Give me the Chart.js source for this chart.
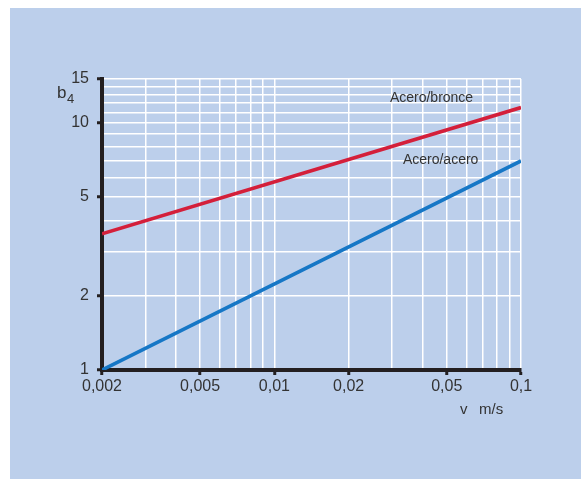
<!DOCTYPE html>
<html>
<head>
<meta charset="utf-8">
<script src="https://cdn.jsdelivr.net/npm/chart.js@4/dist/chart.umd.min.js"></script>
<style>
  html, body { margin: 0; padding: 0; background: #ffffff; }
  #panel { position: absolute; left: 10px; top: 8px; width: 571px; height: 471px; background: #bccfeb; }
  canvas { display: block; }
</style>
</head>
<body>
<div id="panel"><canvas id="chart" width="571" height="471"></canvas></div>
<script>
// Sliding speed v (m/s) at the two ends of each straight log-log line
const speeds = [0.002, 0.1];
// Factor b4 for each material pairing
const bronzeFactor = [3.55, 11.5];
const steelFactor = [1, 7];
const seriesNames = ['Acero/bronce', 'Acero/acero'];

// Labelled ticks
const xTickValues = [0.002, 0.005, 0.01, 0.02, 0.05, 0.1];
const xTickLabels = ['0,002', '0,005', '0,01', '0,02', '0,05', '0,1'];
const yTickValues = [1, 2, 5, 10, 15];
const yTickLabels = ['1', '2', '5', '10', '15'];

// Every grid line of the log-log paper
const xGridValues = [0.002, 0.003, 0.004, 0.005, 0.006, 0.007, 0.008, 0.009,
                     0.01, 0.02, 0.03, 0.04, 0.05, 0.06, 0.07, 0.08, 0.09, 0.1];
const yGridValues = [1, 2, 3, 4, 5, 6, 7, 8, 9, 10, 11, 12, 13, 14, 15];

// Where the series names sit (in v, b4 units: left end of text, baseline)
const nameSpeeds = [0.0294, 0.0332];
const nameFactors = [12.1, 6.8];

const AXIS = '#231f20';
const TEXT = '#333333';
const FONT = "'Liberation Sans', Arial, sans-serif";

function findIndex(list, v) {
  return list.findIndex(t => Math.abs(t - v) / t < 1e-6);
}

const textPlugin = {
  id: 'chartTexts',
  afterDraw(chart) {
    const ctx = chart.ctx;
    const xs = chart.scales.x, ys = chart.scales.y;
    const area = chart.chartArea;
    ctx.save();
    ctx.fillStyle = TEXT;
    ctx.textBaseline = 'alphabetic';
    ctx.textAlign = 'left';

    // series names
    ctx.font = '14px ' + FONT;
    seriesNames.forEach((name, i) => {
      ctx.fillText(name, xs.getPixelForValue(nameSpeeds[i]), ys.getPixelForValue(nameFactors[i]));
    });

    // y axis title: b with subscript 4
    ctx.font = '17px ' + FONT;
    ctx.fillText('b', area.left - 45, area.top + 19);
    ctx.font = '13px ' + FONT;
    ctx.fillText('4', area.left - 35, area.top + 24);

    // x axis title
    ctx.font = '15px ' + FONT;
    ctx.fillText('v', area.left + 358, area.bottom + 44);
    ctx.fillText('m/s', area.left + 377, area.bottom + 44);
    ctx.restore();
  }
};

function tickMarkColor(list) {
  return ctx => (ctx.tick && findIndex(list, ctx.tick.value) >= 0) ? AXIS : 'rgba(0,0,0,0)';
}

new Chart(document.getElementById('chart'), {
  type: 'line',
  data: {
    datasets: [
      {
        label: seriesNames[0],
        data: speeds.map((v, i) => ({ x: v, y: bronzeFactor[i] })),
        borderColor: '#d41f3a',
        borderWidth: 3.6,
        pointRadius: 0,
        tension: 0
      },
      {
        label: seriesNames[1],
        data: speeds.map((v, i) => ({ x: v, y: steelFactor[i] })),
        borderColor: '#1677c6',
        borderWidth: 3.6,
        pointRadius: 0,
        tension: 0
      }
    ]
  },
  options: {
    responsive: false,
    animation: false,
    devicePixelRatio: 1,
    layout: { padding: { left: 0, top: 71, right: 60, bottom: 0 } },
    plugins: { legend: { display: false }, tooltip: { enabled: false } },
    scales: {
      x: {
        type: 'logarithmic',
        min: 0.002,
        max: 0.1,
        afterBuildTicks: scale => { scale.ticks = xGridValues.map(v => ({ value: v })); },
        afterFit: scale => { scale.height = 109; },
        grid: {
          color: '#ffffff',
          lineWidth: 1.5,
          drawTicks: true,
          tickLength: 5,
          tickWidth: 3,
          tickColor: tickMarkColor(xTickValues)
        },
        border: { display: true, color: AXIS, width: 4 },
        ticks: {
          autoSkip: false,
          maxRotation: 0,
          padding: 2,
          color: TEXT,
          font: { family: FONT, size: 16 },
          callback: v => { const i = findIndex(xTickValues, v); return i >= 0 ? xTickLabels[i] : ''; }
        }
      },
      y: {
        type: 'logarithmic',
        min: 1,
        max: 15,
        afterBuildTicks: scale => { scale.ticks = yGridValues.map(v => ({ value: v })); },
        afterFit: scale => { scale.width = 92; },
        grid: {
          color: '#ffffff',
          lineWidth: 1.5,
          drawTicks: true,
          tickLength: 5,
          tickWidth: 3,
          tickColor: tickMarkColor(yTickValues)
        },
        border: { display: true, color: AXIS, width: 4 },
        ticks: {
          autoSkip: false,
          padding: 8,
          color: TEXT,
          font: { family: FONT, size: 16 },
          callback: v => { const i = findIndex(yTickValues, v); return i >= 0 ? yTickLabels[i] : ''; }
        }
      }
    }
  },
  plugins: [textPlugin]
});
</script>
</body>
</html>
